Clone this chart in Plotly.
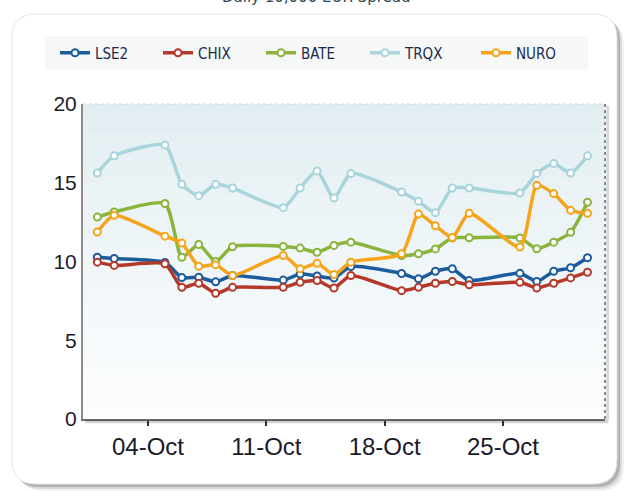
import plotly.graph_objects as go

dates = ["2009-10-01", "2009-10-02", "2009-10-05", "2009-10-06", "2009-10-07", "2009-10-08",
         "2009-10-09", "2009-10-12", "2009-10-13", "2009-10-14", "2009-10-15", "2009-10-16",
         "2009-10-19", "2009-10-20", "2009-10-21", "2009-10-22", "2009-10-23", "2009-10-26",
         "2009-10-27", "2009-10-28", "2009-10-29", "2009-10-30"]

lse2 = [10.27, 10.19, 9.94, 8.98, 9.00, 8.71, 9.11, 8.82, 9.20, 9.08, 8.95, 9.68,
        9.24, 8.90, 9.38, 9.54, 8.79, 9.25, 8.73, 9.38, 9.60, 10.24]
chix = [9.96, 9.75, 9.85, 8.36, 8.62, 7.98, 8.36, 8.36, 8.68, 8.79, 8.32, 9.11,
        8.15, 8.36, 8.62, 8.73, 8.52, 8.68, 8.32, 8.62, 8.96, 9.32]
bate = [12.82, 13.14, 13.68, 10.27, 11.08, 10.00, 10.94, 10.96, 10.85, 10.59, 11.02, 11.23,
        10.38, 10.49, 10.80, 11.50, 11.51, 11.50, 10.81, 11.23, 11.85, 13.76]
trqx = [15.62, 16.71, 17.39, 14.90, 14.18, 14.90, 14.67, 13.42, 14.67, 15.75, 14.03, 15.59,
        14.41, 13.82, 13.10, 14.67, 14.67, 14.35, 15.59, 16.22, 15.62, 16.71]
nuro = [11.87, 12.93, 11.61, 11.17, 9.70, 9.80, 9.11, 10.38, 9.54, 9.89, 9.17, 9.96,
        10.49, 13.01, 12.27, 11.53, 13.06, 10.92, 14.84, 14.31, 13.25, 13.06]

series_names = ["LSE2", "CHIX", "BATE", "TRQX", "NURO"]
series_values = [lse2, chix, bate, trqx, nuro]
series_colors = ["#1d5c9c", "#b5392b", "#8bb43c", "#a8d5dc", "#f6a41c"]
legend_widths = [58, 58, 59, 66, 58]

x_tick_dates = ["2009-10-04", "2009-10-11", "2009-10-18", "2009-10-25"]
x_tick_labels = ["04-Oct", "11-Oct", "18-Oct", "25-Oct"]
y_tick_vals = [0, 5, 10, 15, 20]

title_text = "Daily 10,000 EUR Spread"

W, H = 633, 491
L, R, T, B = 83, 605, 104, 419
pw, ph = R - L, B - T


def px(x):
    return (x - L) / pw


def py(y):
    return (B - y) / ph


def rpath(x0, y0, x1, y1, r):
    def pt(x, y):
        return f"{px(x):.5f},{py(y):.5f}"
    return (f"M {pt(x0 + r, y0)} L {pt(x1 - r, y0)} Q {pt(x1, y0)} {pt(x1, y0 + r)} "
            f"L {pt(x1, y1 - r)} Q {pt(x1, y1)} {pt(x1 - r, y1)} "
            f"L {pt(x0 + r, y1)} Q {pt(x0, y1)} {pt(x0, y1 - r)} "
            f"L {pt(x0, y0 + r)} Q {pt(x0, y0)} {pt(x0 + r, y0)} Z")


shapes = []
# panel shadows
for off, col in [(7, "rgba(0,0,0,0.05)"), (5, "rgba(0,0,0,0.10)"), (3, "rgba(0,0,0,0.18)")]:
    shapes.append(dict(type="path", xref="paper", yref="paper", layer="below",
                       path=rpath(12 + off, 14 + off, 617 + off, 484 + off, 24),
                       fillcolor=col, line=dict(width=0)))
shapes.append(dict(type="path", xref="paper", yref="paper", layer="below",
                   path=rpath(12, 14, 617, 484, 24),
                   fillcolor="white", line=dict(color="#e4e4e4", width=1)))
# legend box
shapes.append(dict(type="rect", xref="paper", yref="paper", layer="below",
                   x0=px(45), x1=px(588), y0=py(70), y1=py(36),
                   fillcolor="#f6f7f7", line=dict(width=0)))
# gradient plot background
nb = 40
top_c = (227, 238, 242)
bot_c = (252, 253, 254)
for i in range(nb):
    t = i / (nb - 1)
    c = tuple(int(round(top_c[k] + (bot_c[k] - top_c[k]) * t)) for k in range(3))
    shapes.append(dict(type="rect", xref="paper", yref="paper", layer="below",
                       x0=0, x1=1, y0=1 - (i + 1) / nb, y1=1 - i / nb,
                       fillcolor=f"rgb{c}", line=dict(width=0)))
# plot frame: right dotted border + top dotted border
shapes.append(dict(type="line", xref="paper", yref="paper", layer="above",
                   x0=1.005, x1=1.005, y0=-0.005, y1=0.995,
                   line=dict(color="rgba(0,0,0,0.15)", width=3)))
shapes.append(dict(type="line", xref="paper", yref="paper", layer="above",
                   x0=1, x1=1, y0=0, y1=1, line=dict(color="#8a8a8a", width=2, dash="dot")))
shapes.append(dict(type="line", xref="paper", yref="paper", layer="above",
                   x0=0, x1=1, y0=1, y1=1, line=dict(color="#c9d6da", width=1, dash="dot")))
# bottom axis shadow
shapes.append(dict(type="line", xref="paper", yref="paper", layer="above",
                   x0=0.004, x1=1.006, y0=-0.009, y1=-0.009,
                   line=dict(color="rgba(0,0,0,0.18)", width=3)))

fig = go.Figure()
for name, vals, col, lw in zip(series_names, series_values, series_colors, legend_widths):
    fig.add_trace(go.Scatter(
        x=dates, y=vals, name=name, mode="lines+markers", legendwidth=lw,
        line=dict(color=col, width=3.5, shape="spline", smoothing=0.6),
        marker=dict(symbol="circle", size=7, color="white", line=dict(color=col, width=2)),
    ))

fig.update_layout(
    width=W, height=H,
    margin=dict(l=L, r=W - R, t=T, b=H - B, autoexpand=False),
    paper_bgcolor="white",
    plot_bgcolor="white",
    showlegend=True,
    legend=dict(orientation="h", x=px(55), xanchor="left", y=py(53), yanchor="middle",
                bgcolor="rgba(0,0,0,0)", font=dict(family="DejaVu Sans Condensed", size=15, color="#1d2b4a"),
                entrywidth=58, entrywidthmode="pixels", itemclick=False),
    shapes=shapes,
    annotations=[dict(text=title_text, xref="paper", yref="paper", x=px(316), y=py(-3),
                      xanchor="center", yanchor="middle", showarrow=False,
                      font=dict(family="DejaVu Sans", size=15, color="#2d4a55"))],
    xaxis=dict(
        type="date", range=["2009-09-30 03:40", "2009-10-31 00:50"], automargin=False,
        tickmode="array", tickvals=x_tick_dates, ticktext=x_tick_labels,
        ticks="outside", ticklen=5, tickwidth=2, tickcolor="#333",
        showgrid=False, zeroline=False, showline=True, linecolor="#6a6a6a", linewidth=2,
        tickfont=dict(family="Liberation Sans", size=24, color="#1a1a2a"),
    ),
    yaxis=dict(
        range=[0, 20], tickmode="array", tickvals=y_tick_vals, automargin=False,
        ticks="", showgrid=False, zeroline=False, showline=True, linecolor="#8c8c8c", linewidth=2,
        tickfont=dict(family="Liberation Sans", size=21, color="#1a1a2a"),
    ),
)

fig.write_html("out.html", config={"displayModeBar": False},
               post_script="document.body.style.margin='0px';document.body.style.overflow='hidden';")
